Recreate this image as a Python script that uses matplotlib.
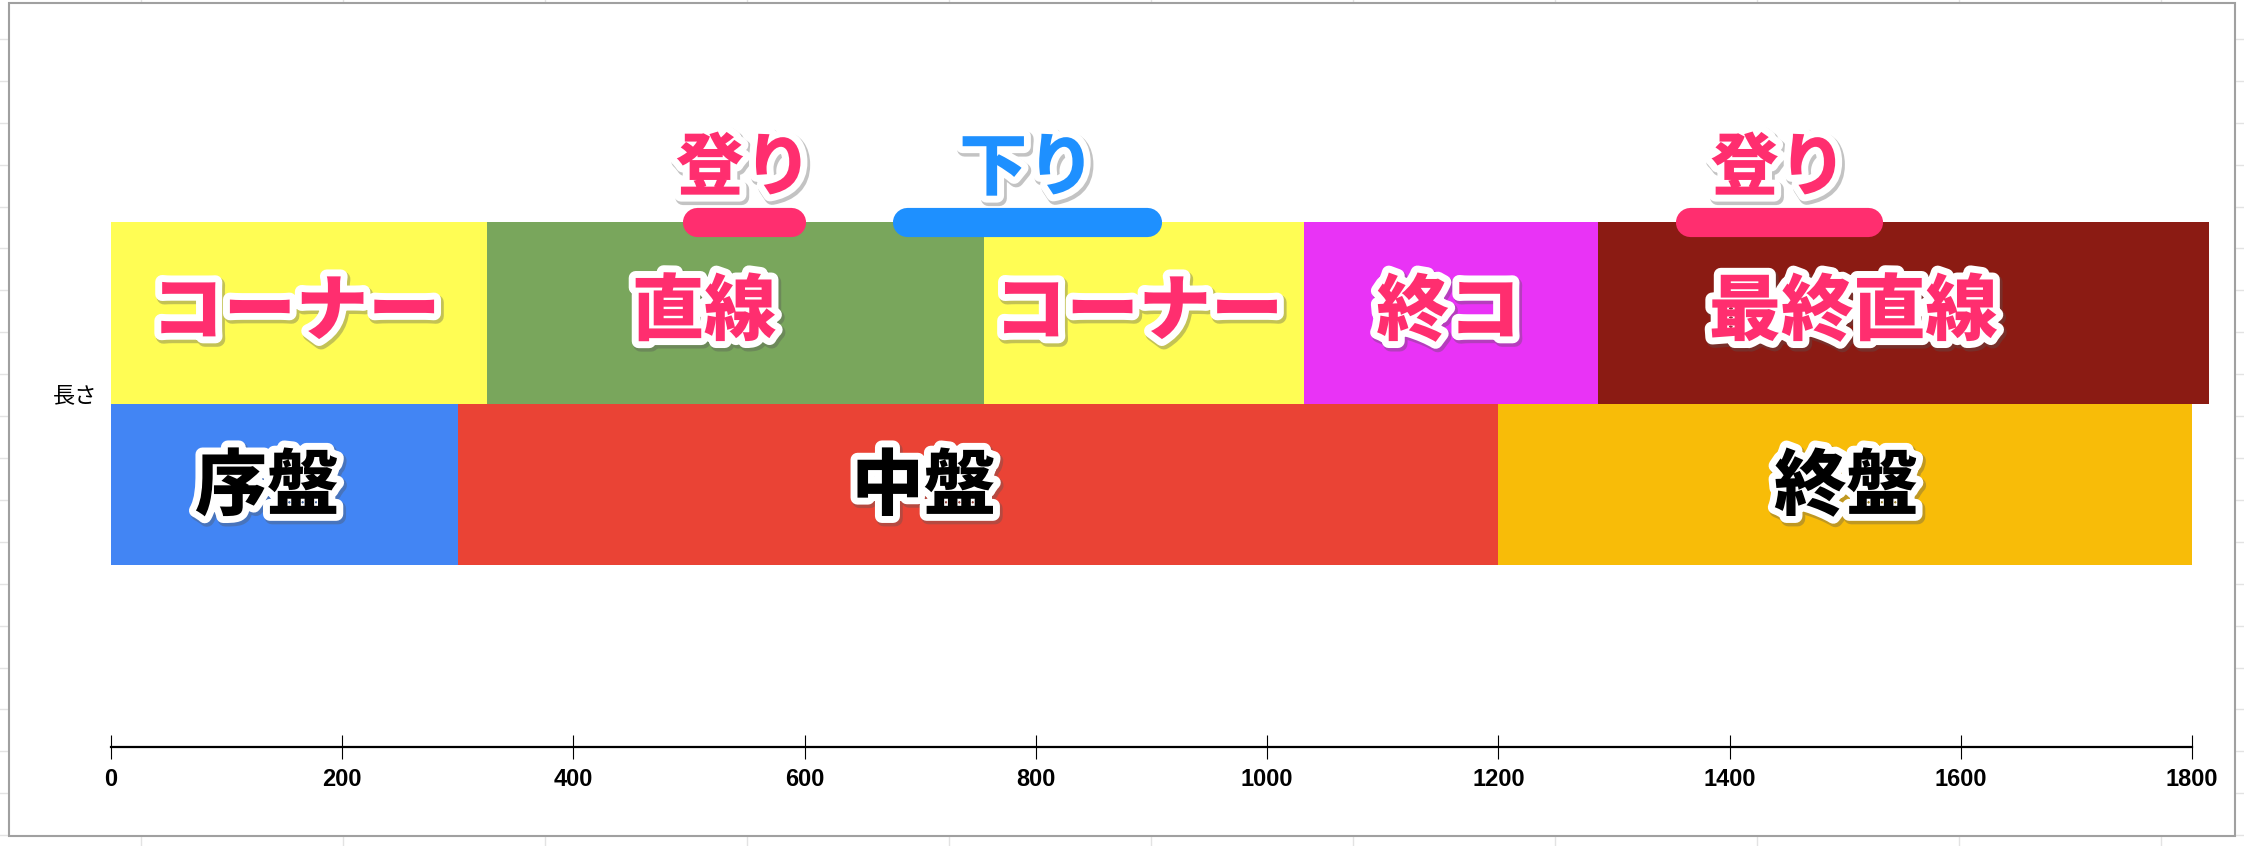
import numpy as np
import matplotlib.pyplot as plt
import matplotlib.patheffects as pe
from matplotlib.lines import Line2D
from matplotlib.patches import Rectangle

# course sections (top row) and race phases (bottom row), lengths in m
section_labels = ["コーナー", "直線", "コーナー", "終コ", "最終直線"]
section_lengths = [325, 430, 277, 254, 529]
section_colors = ["#FFFD54", "#79A65C", "#FFFD54", "#E933F6", "#8B1B13"]

phase_labels = ["序盤", "中盤", "終盤"]
phase_lengths = [300, 900, 600]
phase_colors = ["#4285F4", "#EA4335", "#F8BC08"]

slope_labels = ["登り", "下り", "登り"]
slope_start = [494, 676, 1353]
slope_end = [601, 909, 1532]
slope_colors = ["#FF2E6F", "#1E90FF", "#FF2E6F"]

xticks = np.arange(0, 1801, 200)

W, H = 2244, 846
fig = plt.figure(figsize=(W / 100, H / 100), dpi=100)

# spreadsheet background around the chart frame
for gx in np.arange(141, W, 202):
    fig.add_artist(Line2D([gx / W, gx / W], [0, 1], color="#e3e3e3", lw=1, zorder=-3))
for gy in np.arange(39, H, 41.9):
    fig.add_artist(Line2D([0, 1], [1 - gy / H, 1 - gy / H], color="#e3e3e3", lw=1, zorder=-3))
fig.add_artist(Rectangle((9 / W, 1 - 836 / H), (2235 - 9) / W, (836 - 3) / H,
                         transform=fig.transFigure, facecolor="white",
                         edgecolor="#a0a0a0", lw=1.5, zorder=-2))

ax = fig.add_axes([111 / W, (H - 746.5) / H, (2192 - 111) / W, 746.5 / H])
ax.set_facecolor("none")
ax.set_xlim(0, 1800)
ax.set_ylim(-1.528, 2.825)

# top row: course sections (the course runs a little past 1800)
top = ax.barh(1.0, section_lengths, left=np.concatenate([[0], np.cumsum(section_lengths)[:-1]]),
              height=1.06, color=section_colors, edgecolor="none", zorder=2)
for b in top:
    b.set_clip_on(False)
# bottom row: race phases
ax.barh(0.0, phase_lengths, left=np.concatenate([[0], np.cumsum(phase_lengths)[:-1]]),
        height=0.94, color=phase_colors, edgecolor="none", zorder=2)

jp = ["Noto Sans CJK JP", "DejaVu Sans"]
outline = [pe.Stroke(linewidth=11, foreground="#555555", alpha=0.35, offset=(1.5, -2)),
           pe.Stroke(linewidth=10, foreground="white"), pe.Normal()]

section_x = [160, 513, 889, 1157, 1507]
for lab, x in zip(section_labels, section_x):
    ax.text(x, 1.0, lab, ha="center", va="center", fontsize=52, fontweight="black",
            family=jp, color="#FF2E6F", path_effects=outline, zorder=5)

phase_x = [135, 703, 1501]
for lab, x in zip(phase_labels, phase_x):
    ax.text(x, -0.02, lab, ha="center", va="center", fontsize=52, fontweight="black",
            family=jp, color="black", path_effects=outline, zorder=5)

# slope markers
cap = 14.5 / 1.1561
for lab, s, e, c in zip(slope_labels, slope_start, slope_end, slope_colors):
    ax.plot([s + cap, e - cap], [1.528, 1.528], color=c, lw=21,
            solid_capstyle="round", zorder=4)
    ax.text((s + e) / 2, 1.84, lab, ha="center", va="center", fontsize=49,
            fontweight="black", family=jp, color=c, path_effects=outline, zorder=5)

for side in ["top", "left", "right"]:
    ax.spines[side].set_visible(False)
ax.spines["bottom"].set_linewidth(1.6)
ax.spines["bottom"].set_zorder(3)

ax.set_xticks(xticks)
ax.set_xticklabels([str(t) for t in xticks], fontsize=17, fontweight="bold",
                   family="Liberation Sans")
ax.tick_params(axis="x", direction="inout", length=17, width=0.8, pad=7)

ax.set_yticks([0.53])
ax.set_yticklabels(["長さ"], fontsize=16, family=jp)
ax.tick_params(axis="y", length=0, pad=10)

fig.savefig("out.png", dpi=100)
